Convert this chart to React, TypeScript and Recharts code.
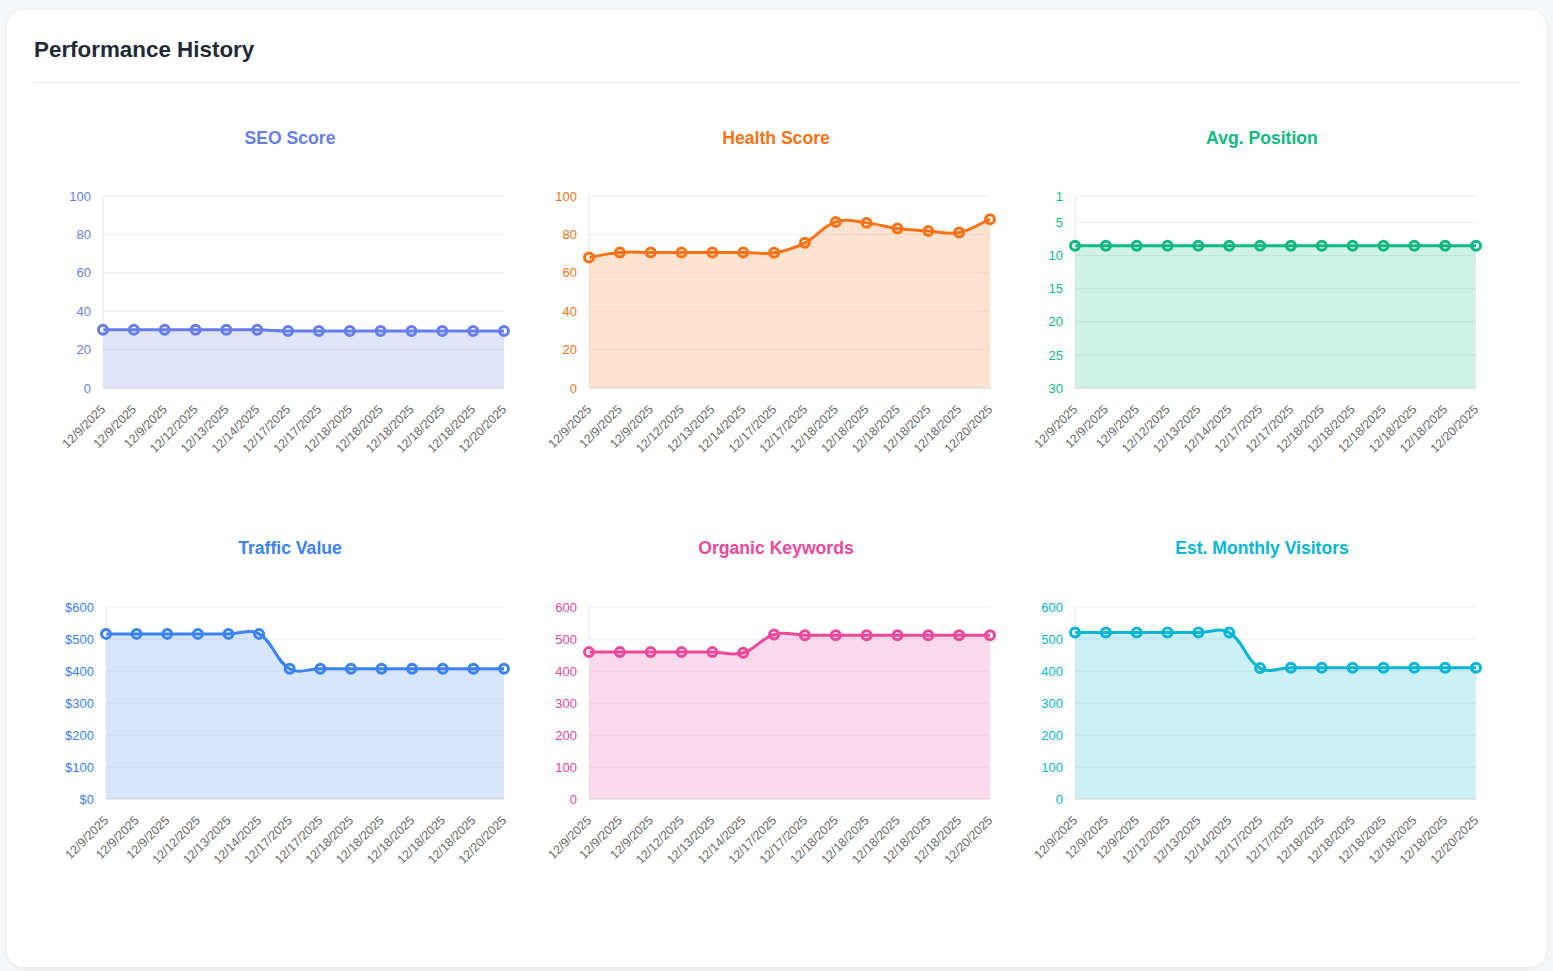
import React from 'react';
import { AreaChart, Area, XAxis, YAxis, CartesianGrid } from 'recharts';

const dates = [
  '12/9/2025', '12/9/2025', '12/9/2025', '12/12/2025', '12/13/2025', '12/14/2025', '12/17/2025',
  '12/17/2025', '12/18/2025', '12/18/2025', '12/18/2025', '12/18/2025', '12/18/2025', '12/20/2025',
];

const seoScore = [30.3, 30.3, 30.3, 30.3, 30.3, 30.3, 29.7, 29.7, 29.7, 29.7, 29.7, 29.7, 29.7, 29.7];
const healthScore = [68, 70.6, 70.6, 70.6, 70.6, 70.6, 70.4, 75.6, 86.5, 86, 83.1, 81.8, 81, 87.9];
const avgPosition = [8.5, 8.5, 8.5, 8.5, 8.5, 8.5, 8.5, 8.5, 8.5, 8.5, 8.5, 8.5, 8.5, 8.5];
const trafficValue = [516, 516, 516, 516, 516, 516, 407, 407, 407, 407, 407, 407, 407, 407];
const organicKeywords = [459, 459, 459, 459, 459, 457, 514, 512, 512, 512, 512, 512, 512, 512];
const monthlyVisitors = [520, 520, 520, 520, 520, 520, 409, 410, 410, 410, 410, 410, 410, 410];

const scoreTicks = [0, 20, 40, 60, 80, 100];
const positionTicks = [1, 5, 10, 15, 20, 25, 30];
const countTicks = [0, 100, 200, 300, 400, 500, 600];

const FONT = '"Liberation Sans", Arial, Helvetica, sans-serif';

// chart.js style bezier spline, tension 0.4
function splineCurve(ctx: any) {
  let pts: number[][] = [];
  let line = NaN;
  const t = 0.4;
  return {
    areaStart() { line = 0; },
    areaEnd() { line = NaN; },
    lineStart() { pts = []; },
    point(x: number, y: number) { pts.push([+x, +y]); },
    lineEnd() {
      const n = pts.length;
      if (n > 0) {
        if (line) ctx.lineTo(pts[0][0], pts[0][1]);
        else ctx.moveTo(pts[0][0], pts[0][1]);
        const cps = pts.map((p, i) => {
          const prev = pts[i - 1] || p;
          const next = pts[i + 1] || p;
          const d01 = Math.hypot(p[0] - prev[0], p[1] - prev[1]);
          const d12 = Math.hypot(next[0] - p[0], next[1] - p[1]);
          let s01 = d01 / (d01 + d12);
          let s12 = d12 / (d01 + d12);
          if (!isFinite(s01)) s01 = 0;
          if (!isFinite(s12)) s12 = 0;
          const fa = t * s01;
          const fb = t * s12;
          return {
            inX: p[0] - fa * (next[0] - prev[0]),
            inY: p[1] - fa * (next[1] - prev[1]),
            outX: p[0] + fb * (next[0] - prev[0]),
            outY: p[1] + fb * (next[1] - prev[1]),
          };
        });
        for (let i = 1; i < n; i++) {
          ctx.bezierCurveTo(cps[i - 1].outX, cps[i - 1].outY, cps[i].inX, cps[i].inY, pts[i][0], pts[i][1]);
        }
      }
      if (line || (line !== 0 && n === 1)) ctx.closePath();
      line = 1 - line;
    },
  };
}

function DateTick(props: any) {
  const { x, y, payload } = props;
  return (
    <g transform={`translate(${x},${y + 19})`}>
      <text x={0} y={0} dy="0.35em" textAnchor="end" transform="rotate(-45)" fill="#666" fontSize={12.3} fontFamily={FONT}>
        {dates[payload.value]}
      </text>
    </g>
  );
}

type Panel = {
  title: string;
  values: number[];
  color: string;
  soft: string;
  ticks: number[];
  domain: [number, number];
  reversed?: boolean;
  base?: number;
  money?: boolean;
  yWidth: number;
};

const panels: Panel[] = [
  { title: 'SEO Score', values: seoScore, color: '#667eea', soft: 'rgba(102,126,234,0.2)', ticks: scoreTicks, domain: [0, 100], yWidth: 63 },
  { title: 'Health Score', values: healthScore, color: '#f97316', soft: 'rgba(249,115,22,0.2)', ticks: scoreTicks, domain: [0, 100], yWidth: 63 },
  { title: 'Avg. Position', values: avgPosition, color: '#10b981', soft: 'rgba(16,185,129,0.2)', ticks: positionTicks, domain: [1, 30], reversed: true, base: 30, yWidth: 63 },
  { title: 'Traffic Value', values: trafficValue, color: '#3b82f6', soft: 'rgba(59,130,246,0.2)', ticks: countTicks, domain: [0, 600], money: true, yWidth: 66 },
  { title: 'Organic Keywords', values: organicKeywords, color: '#ec4899', soft: 'rgba(236,72,153,0.2)', ticks: countTicks, domain: [0, 600], yWidth: 63 },
  { title: 'Est. Monthly Visitors', values: monthlyVisitors, color: '#06b6d4', soft: 'rgba(6,182,212,0.2)', ticks: countTicks, domain: [0, 600], yWidth: 63 },
];

function MiniChart({ panel, col, row }: { panel: Panel; col: number; row: number }) {
  const data = panel.values.map((v, i) => ({ i, v }));
  return (
    <>
      <div
        style={{
          position: 'absolute', left: 47 + col * 486, top: 128 + row * 410, width: 486,
          textAlign: 'center', fontSize: 17.6, lineHeight: '20px', fontWeight: 700, color: panel.color, fontFamily: FONT,
        }}
      >
        {panel.title}
      </div>
      <div style={{ position: 'absolute', left: 40 + col * 486, top: 186 + row * 411 }}>
        <AreaChart width={486} height={282} data={data} margin={{ top: 10, right: 22, bottom: 0, left: 0 }}>
          <CartesianGrid vertical={false} stroke="#ededed" />
          <XAxis
            dataKey="i"
            height={80}
            interval={0}
            tickLine={false}
            tickSize={0}
            tickMargin={0}
            axisLine={{ stroke: '#d8d8d8' }}
            tick={<DateTick />}
          />
          <YAxis
            width={panel.yWidth}
            domain={panel.domain}
            ticks={panel.ticks}
            reversed={panel.reversed}
            interval={0}
            tickLine={false}
            tickMargin={6}
            axisLine={{ stroke: '#e6e6e6' }}
            tick={{ fill: panel.color, fontSize: 13, fontFamily: FONT }}
            tickFormatter={(v: number) => (panel.money ? `$${v}` : `${v}`)}
          />
          <Area
            type={splineCurve as any}
            dataKey="v"
            stroke={panel.color}
            strokeWidth={3}
            fill={panel.color}
            fillOpacity={0.2}
            baseValue={panel.base}
            dot={{ r: 4.5, fill: panel.soft, stroke: panel.color, strokeWidth: 3 }}
            activeDot={false}
            isAnimationActive={false}
          />
        </AreaChart>
      </div>
    </>
  );
}

export default function App() {
  return (
    <div style={{ position: 'absolute', left: 0, top: 0, width: 1553, height: 971, background: '#f6f7f9', fontFamily: FONT }}>
      <div
        style={{
          position: 'absolute', left: 7, top: 10, width: 1539, height: 957, background: '#fff',
          borderRadius: 16, boxShadow: '0 1px 4px rgba(0,0,0,0.08)',
        }}
      />
      <div style={{ position: 'absolute', left: 34, top: 36, fontSize: 22.4, lineHeight: '28px', fontWeight: 700, color: '#1f2937' }}>
        Performance History
      </div>
      <div style={{ position: 'absolute', left: 34, top: 82, width: 1485, height: 1, background: '#e3e5e8' }} />
      {panels.map((p, k) => (
        <MiniChart key={p.title} panel={p} col={k % 3} row={Math.floor(k / 3)} />
      ))}
    </div>
  );
}
